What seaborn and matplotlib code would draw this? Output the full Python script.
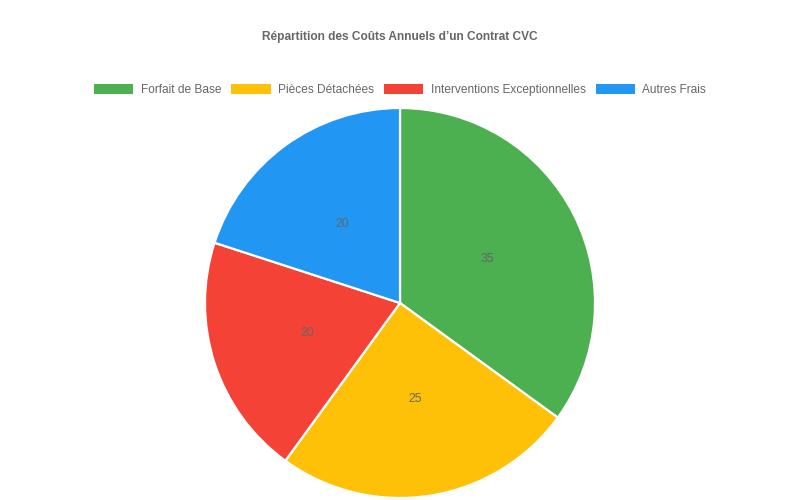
import matplotlib
matplotlib.use("Agg")
import matplotlib.pyplot as plt
import matplotlib.patches as mpatches
import seaborn as sns

categories = ["Forfait de Base", "Pièces Détachées", "Interventions Exceptionnelles", "Autres Frais"]
values = [35, 25, 20, 20]
colors = ["#4CAF50", "#FFC107", "#F44336", "#2196F3"]
title = "Répartition des Coûts Annuels d’un Contrat CVC"

sns.set_theme(style="white")
plt.rcParams["font.family"] = ["Liberation Sans", "DejaVu Sans"]

W, H = 800, 500
fig = plt.figure(figsize=(8, 5), dpi=100)
fig.patch.set_facecolor("white")

cx, cy, r = 400, 303, 195
ax = fig.add_axes([(cx - r) / W, (H - cy - r) / H, 2 * r / W, 2 * r / H])
palette = sns.color_palette(colors)
wedges, texts = ax.pie(
    values,
    colors=palette,
    startangle=90,
    counterclock=False,
    radius=1.0,
    labels=[str(v) for v in values],
    labeldistance=0.5,
    wedgeprops=dict(edgecolor="white", linewidth=1.6),
    textprops=dict(color="#666666", fontsize=8.7, ha="center", va="center"),
)
ax.set_xlim(-1, 1)
ax.set_ylim(-1, 1)
ax.set_aspect("equal")
ax.axis("off")

fig.text(0.5, 1 - 37 / H, title, ha="center", va="center", fontsize=8.6,
         fontweight="bold", color="#666666")

handles = [mpatches.Patch(facecolor=c, edgecolor="none", label=l) for c, l in zip(colors, categories)]
leg = fig.legend(handles=handles, loc="center", bbox_to_anchor=(0.5, 1 - 90 / H), ncol=4,
                 frameon=False, fontsize=8.6, handlelength=3.3, handleheight=0.85,
                 handletextpad=0.6, columnspacing=0.85, borderaxespad=0)
for t in leg.get_texts():
    t.set_color("#666666")

fig.savefig("out.png", dpi=100, facecolor="white")
